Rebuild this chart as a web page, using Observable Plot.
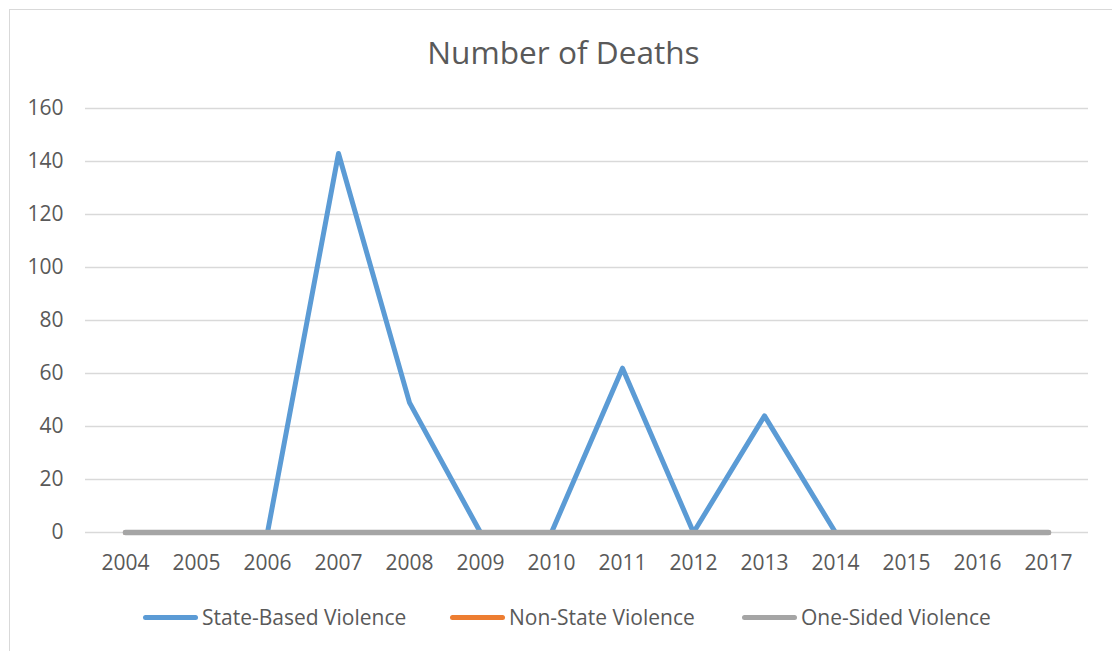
<!DOCTYPE html>
<html>
<head>
<meta charset="utf-8">
<script src="https://cdn.jsdelivr.net/npm/d3@7"></script>
<script src="https://cdn.jsdelivr.net/npm/@observablehq/plot@0.6"></script>
<style>
  html, body { margin: 0; padding: 0; background: #fff; }
  body { width: 1112px; height: 651px; position: relative; overflow: hidden; font-family: "Open Sans", sans-serif; color: #595959; }
  #frame { position: absolute; left: 9px; top: 9px; width: 1200px; height: 700px; border-left: 1.5px solid #d9d9d9; border-top: 1.5px solid #d9d9d9; }
  #title { position: absolute; left: 0; width: 1127px; top: 31px; text-align: center; font-size: 31.6px; line-height: 42px; }
  #chart { position: absolute; left: 0; top: 0; }
  .leg { position: absolute; top: 603px; display: flex; align-items: center; font-size: 21px; line-height: 28px; }
  .sw { width: 55px; height: 5px; border-radius: 3px; margin-right: 4px; }
</style>
</head>
<body>
<div id="frame"></div>
<div id="chart"></div>
<div id="title">Number of Deaths</div>
<div id="legend"></div>
<script>
const years = ["2004","2005","2006","2007","2008","2009","2010","2011","2012","2013","2014","2015","2016","2017"];
const stateBased = [0,0,0,143,49,0,0,62,0,44,0,0,0,0];
const nonState   = [0,0,0,0,0,0,0,0,0,0,0,0,0,0];
const oneSided   = [0,0,0,0,0,0,0,0,0,0,0,0,0,0];
const seriesNames = ["State-Based Violence","Non-State Violence","One-Sided Violence"];
const seriesColors = ["#5B9BD5","#ED7D31","#A5A5A5"];
const yTicks = [0,20,40,60,80,100,120,140,160];

const seriesValues = [stateBased, nonState, oneSided];
const seriesRows = seriesNames.map((name, si) =>
  years.map((yr, i) => ({series: name, year: yr, value: seriesValues[si][i]})));

const plot = Plot.plot({
  width: 1112,
  height: 651,
  marginLeft: 85,
  marginRight: 24,
  marginTop: 108,
  marginBottom: 119,
  style: { fontFamily: "Open Sans, sans-serif", fontSize: "21px", color: "#595959", background: "transparent", overflow: "visible" },
  x: { type: "point", domain: years, padding: 0.5, label: null },
  y: { domain: [0, 160], ticks: yTicks, label: null },
  color: { domain: seriesNames, range: seriesColors },
  marks: [
    Plot.gridY(yTicks, { stroke: "#d9d9d9", strokeOpacity: 1, strokeWidth: 1.5 }),
    Plot.axisY(yTicks, { tickSize: 0, tickPadding: 22, fill: "#595959", fontSize: 21 }),
    Plot.axisX({ tickSize: 0, tickPadding: 23, fill: "#595959", fontSize: 21 }),
    ...seriesRows.map((rows, si) =>
      Plot.line(rows, { x: "year", y: "value", stroke: "series", strokeWidth: si === 2 ? 5.5 : 5, strokeLinecap: "round", strokeLinejoin: "round" }))
  ]
});
document.getElementById("chart").appendChild(plot);

const legendLefts = [143, 450, 742];
const legend = document.getElementById("legend");
seriesNames.forEach((name, i) => {
  const d = document.createElement("div");
  d.className = "leg";
  d.style.left = legendLefts[i] + "px";
  d.innerHTML = `<div class="sw" style="background:${seriesColors[i]}"></div><span>${name}</span>`;
  legend.appendChild(d);
});
</script>
</body>
</html>
